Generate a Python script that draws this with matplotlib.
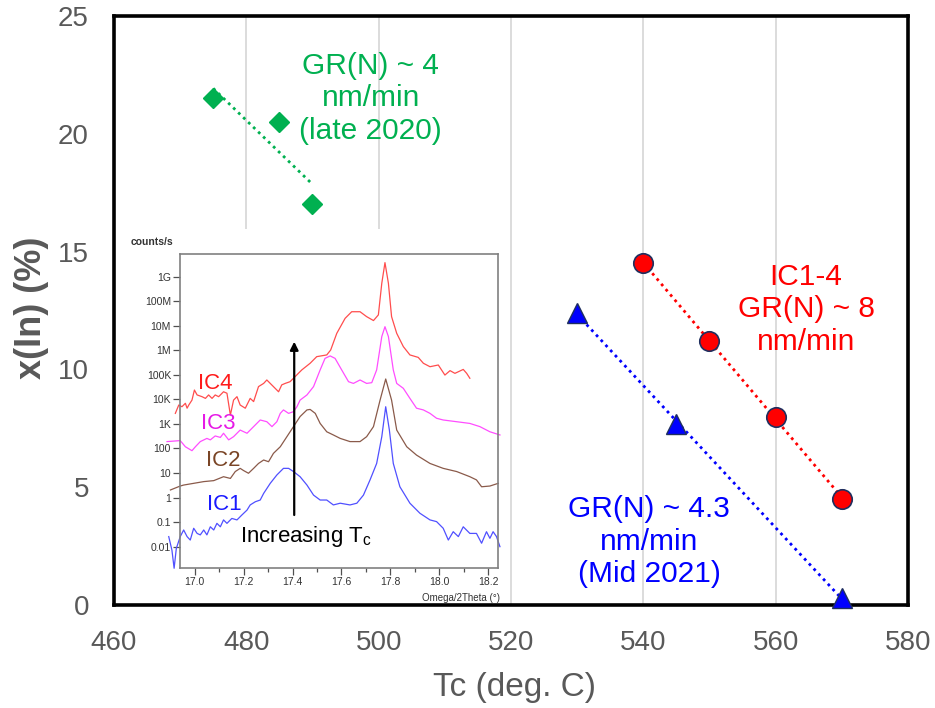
import numpy as np
import matplotlib
matplotlib.use("Agg")
import matplotlib.pyplot as plt
from matplotlib.patches import Rectangle
from matplotlib.ticker import FixedLocator, FixedFormatter, MultipleLocator

plt.rcParams['font.family'] = ['Liberation Sans', 'DejaVu Sans']
plt.rcParams['mathtext.fontset'] = 'custom'
plt.rcParams['mathtext.rm'] = 'Liberation Sans'

# ---------------- main chart data ----------------
green_tc = [475, 485, 490]
green_x = [21.5, 20.5, 17.0]
red_tc = [540, 550, 560, 570]
red_x = [14.5, 11.2, 8.0, 4.5]
blue_tc = [530, 545, 570]
blue_x = [12.4, 7.7, 0.3]

x_ticks = [460, 480, 500, 520, 540, 560, 580]
y_ticks = [0, 5, 10, 15, 20, 25]

green_label = "GR(N) ~ 4\nnm/min\n(late 2020)"
red_label = "IC1-4\nGR(N) ~ 8\nnm/min"
blue_label = "GR(N) ~ 4.3\nnm/min\n(Mid 2021)"

# ---------------- inset XRD data (theta in deg, log10 counts/s) ----------------
ic4_theta = [16.921, 16.935, 16.948, 16.962, 16.969, 16.976, 16.989, 16.999, 17.010, 17.030,
             17.044, 17.057, 17.071, 17.084, 17.098, 17.118, 17.132, 17.146, 17.159, 17.173,
             17.186, 17.207, 17.227, 17.241, 17.261, 17.282, 17.295, 17.309, 17.322, 17.343,
             17.356, 17.370, 17.390, 17.411, 17.438, 17.472, 17.499, 17.540, 17.556, 17.581,
             17.615, 17.642, 17.676, 17.703, 17.731, 17.751, 17.765, 17.778, 17.792, 17.805,
             17.826, 17.853, 17.880, 17.914, 17.935, 17.962, 17.996, 18.023, 18.044, 18.064,
             18.098, 18.112, 18.125]
ic4_log = [3.43, 3.77, 3.70, 3.84, 3.64, 3.77, 3.97, 4.38, 4.18, 4.11,
           4.04, 4.18, 4.04, 4.18, 4.11, 4.31, 4.25, 3.36, 3.97, 4.11,
           3.77, 3.64, 4.04, 3.91, 4.52, 4.65, 4.79, 4.65, 4.52, 4.31,
           4.59, 4.65, 4.72, 4.93, 5.20, 5.47, 5.74, 5.81, 6.01, 6.69,
           7.30, 7.57, 7.57, 7.37, 7.21, 7.44, 8.73, 9.57, 8.73, 7.37,
           6.69, 6.15, 5.81, 5.71, 5.47, 5.33, 5.40, 4.99, 5.17, 5.06,
           5.22, 5.06, 4.86]

ic3_theta = [16.887, 16.941, 16.962, 16.989, 17.003, 17.023, 17.050, 17.064, 17.084, 17.105,
             17.118, 17.139, 17.159, 17.186, 17.214, 17.241, 17.268, 17.295, 17.316, 17.336,
             17.350, 17.363, 17.384, 17.404, 17.418, 17.431, 17.459, 17.486, 17.513, 17.533,
             17.554, 17.574, 17.601, 17.629, 17.649, 17.676, 17.703, 17.724, 17.744, 17.765,
             17.778, 17.792, 17.812, 17.826, 17.853, 17.880, 17.907, 17.935, 17.962, 17.989,
             18.016, 18.071, 18.125, 18.166, 18.207, 18.248]
ic3_log = [2.28, 2.32, 2.07, 1.91, 2.07, 2.28, 2.41, 2.35, 2.51, 2.45,
           2.62, 2.35, 2.48, 2.75, 2.62, 2.89, 3.16, 3.09, 2.89, 3.09,
           3.43, 3.57, 3.43, 3.50, 3.70, 3.97, 4.18, 4.52, 5.20, 5.67,
           5.77, 5.67, 5.20, 4.72, 4.65, 4.79, 4.65, 4.68, 5.20, 6.56,
           6.96, 6.56, 5.20, 4.65, 4.45, 4.04, 3.64, 3.57, 3.43, 3.23,
           3.16, 3.09, 3.02, 2.89, 2.68, 2.55]

ic2_theta = [16.901, 16.941, 16.955, 16.996, 17.037, 17.078, 17.118, 17.146, 17.166, 17.186,
             17.200, 17.220, 17.241, 17.261, 17.282, 17.302, 17.322, 17.350, 17.377, 17.404,
             17.431, 17.459, 17.472, 17.493, 17.513, 17.540, 17.567, 17.595, 17.635, 17.676,
             17.703, 17.731, 17.758, 17.781, 17.805, 17.826, 17.867, 17.907, 17.962, 18.016,
             18.071, 18.125, 18.152, 18.173, 18.207, 18.241]
ic2_log = [0.31, 0.47, 0.51, 0.58, 0.65, 0.69, 0.85, 0.78, 1.06, 1.19,
           1.10, 0.99, 1.19, 1.39, 1.53, 1.46, 1.80, 2.07, 2.48, 2.89,
           3.30, 3.57, 3.59, 3.43, 3.02, 2.68, 2.55, 2.41, 2.28, 2.28,
           2.48, 2.89, 3.97, 4.83, 3.97, 2.75, 2.07, 1.73, 1.39, 1.19,
           1.06, 0.85, 0.72, 0.44, 0.47, 0.58]

ic1_theta = [16.894, 16.907, 16.916, 16.925, 16.941, 16.955, 16.969, 16.982, 16.996, 17.010,
             17.023, 17.037, 17.050, 17.064, 17.078, 17.091, 17.105, 17.118, 17.132, 17.152,
             17.173, 17.193, 17.214, 17.227, 17.248, 17.268, 17.282, 17.309, 17.336, 17.363,
             17.384, 17.404, 17.431, 17.459, 17.486, 17.513, 17.540, 17.567, 17.595, 17.635,
             17.663, 17.690, 17.717, 17.744, 17.765, 17.781, 17.796, 17.812, 17.839, 17.880,
             17.921, 17.962, 17.989, 18.016, 18.037, 18.057, 18.078, 18.098, 18.125, 18.152,
             18.173, 18.193, 18.207, 18.220, 18.234, 18.248]
ic1_log = [-1.59, -2.14, -2.88, -2.07, -1.59, -1.32, -1.59, -1.73, -1.25, -1.46,
           -1.52, -1.32, -1.52, -1.19, -1.32, -1.05, -1.19, -0.91, -1.05, -0.85,
           -0.91, -0.71, -0.51, -0.30, -0.17, -0.10, 0.17, 0.58, 0.92, 1.19,
           1.19, 1.06, 0.85, 0.51, 0.10, -0.10, -0.10, -0.30, -0.23, -0.30,
           -0.23, 0.10, 0.72, 1.39, 2.48, 3.70, 2.75, 1.39, 0.44, -0.23,
           -0.64, -0.91, -0.98, -1.25, -1.73, -1.39, -1.59, -1.19, -1.46, -1.46,
           -1.86, -1.39, -1.66, -1.39, -1.59, -2.00]

inset_ytick_exp = [-2, -1, 0, 1, 2, 3, 4, 5, 6, 7, 8, 9]
inset_ytick_labels = ['0.01', '0.1', '1', '10', '100', '1K', '10K', '100K', '1M', '10M', '100M', '1G']
inset_xticks = [17.0, 17.2, 17.4, 17.6, 17.8, 18.0, 18.2]
inset_xtick_labels = ['17.0', '17.2', '17.4', '17.6', '17.8', '18.0', '18.2']

# ---------------- figure ----------------
fig = plt.figure(figsize=(9.35, 7.08), dpi=100)
ax = fig.add_axes([0.1219, 0.1455, 0.8492, 0.8319])
ax.set_xlim(460, 580)
ax.set_ylim(0, 25)
ax.set_xticks(x_ticks)
ax.set_yticks(y_ticks)
ax.set_axisbelow(True)
ax.grid(axis='x', color='#d9d9d9', lw=1.3)
ax.grid(axis='y', visible=False)
for s in ax.spines.values():
    s.set_color('black')
    s.set_linewidth(2.6)
ax.tick_params(axis='both', length=0, labelsize=20, labelcolor='#595959', pad=18)

ax.set_xlabel('Tc (deg. C)', fontsize=24, color='#595959')
ax.xaxis.set_label_coords(0.505, -0.113)
ax.set_ylabel('x(In) (%)', fontsize=26, color='#595959', fontweight='bold')
ax.yaxis.set_label_coords(-0.082, 0.504)

# white background of pasted inset picture (hides gridlines)
ax.add_patch(Rectangle((462.0, 0.0), 57.3, 15.96, facecolor='white', edgecolor='none', zorder=1))

green = '#00b050'
red = '#ff0000'
blue = '#0000ff'
edge = '#1f2f5f'


def trend(xs, ys, color):
    k, b = np.polyfit(xs, ys, 1)
    xx = np.array([min(xs), max(xs)])
    ax.plot(xx, k * xx + b, ls=(0, (1, 1.5)), color=color, lw=2.0, zorder=3)


trend(green_tc, green_x, green)
trend(red_tc, red_x, red)
trend(blue_tc, blue_x, blue)

ax.plot(green_tc, green_x, ls='none', marker='D', ms=10.5, color=green, mec=green, zorder=4, clip_on=False)
ax.plot(red_tc, red_x, ls='none', marker='o', ms=14, color=red, mec=edge, mew=1.2, zorder=4, clip_on=False)
ax.plot(blue_tc, blue_x, ls='none', marker='^', ms=15, color=blue, mec=edge, mew=1.0, zorder=4, clip_on=False)

ax.text(498.8, 21.5, green_label, color=green, fontsize=21.5, ha='center', va='center', linespacing=1.2, zorder=5)
ax.text(564.6, 12.55, red_label, color=red, fontsize=21.5, ha='center', va='center', linespacing=1.2, zorder=5)
ax.text(540.9, 2.68, blue_label, color=blue, fontsize=21.5, ha='center', va='center', linespacing=1.2, zorder=5)

# ---------------- inset ----------------
axi = fig.add_axes([0.1925, 0.1977, 0.3401, 0.4435])
axi.set_facecolor('white')
axi.set_yscale('log')
axi.set_xlim(16.94, 18.24)
axi.set_ylim(10 ** -2.87, 10 ** 9.92)

curves = [(ic4_theta, ic4_log, '#ff4d4d'),
          (ic3_theta, ic3_log, '#ff4dff'),
          (ic2_theta, ic2_log, '#8a5a4a'),
          (ic1_theta, ic1_log, '#5050ff')]
for th, lg, c in curves:
    axi.plot(th, 10 ** np.array(lg), color=c, lw=0.9, clip_on=False, zorder=2)

axi.yaxis.set_major_locator(FixedLocator([10.0 ** e for e in inset_ytick_exp]))
axi.yaxis.set_major_formatter(FixedFormatter(inset_ytick_labels))
axi.yaxis.set_minor_locator(FixedLocator([]))
axi.xaxis.set_major_locator(FixedLocator(inset_xticks))
axi.xaxis.set_major_formatter(FixedFormatter(inset_xtick_labels))
axi.xaxis.set_minor_locator(MultipleLocator(0.1))
axi.tick_params(axis='both', which='major', direction='out', length=5, width=0.9, color='#505050',
                labelsize=7.5, labelcolor='#333333', pad=1.5)
axi.tick_params(axis='x', which='minor', direction='out', length=3, width=0.9, color='#505050')
for s in axi.spines.values():
    s.set_color('#808080')
    s.set_linewidth(1.2)

axi.text(-0.155, 1.038, 'counts/s', transform=axi.transAxes, fontsize=7.5, fontweight='bold',
         color='#333333', ha='left', va='center')
axi.text(1.006, -0.095, 'Omega/2Theta (°)', transform=axi.transAxes, fontsize=7,
         color='#333333', ha='right', va='center')

axi.text(17.086, 10 ** 4.65, 'IC4', color='#ff1a1a', fontsize=16, ha='center', va='center')
axi.text(17.098, 10 ** 3.02, 'IC3', color='#e619e6', fontsize=16, ha='center', va='center')
axi.text(17.118, 10 ** 1.53, 'IC2', color='#7a4526', fontsize=16, ha='center', va='center')
axi.text(17.121, 10 ** -0.30, 'IC1', color='#1a1aff', fontsize=16, ha='center', va='center')

axi.annotate('', xy=(17.407, 10 ** 6.35), xytext=(17.407, 10 ** -0.71),
             arrowprops=dict(arrowstyle='-|>', lw=1.6, color='black', mutation_scale=12,
                             shrinkA=0, shrinkB=0))
axi.text(17.186, 10 ** -1.80, r'Increasing T$_{\mathregular{c}}$', fontsize=16, color='black',
         ha='left', va='baseline')

fig.savefig('out.png', dpi=100)
